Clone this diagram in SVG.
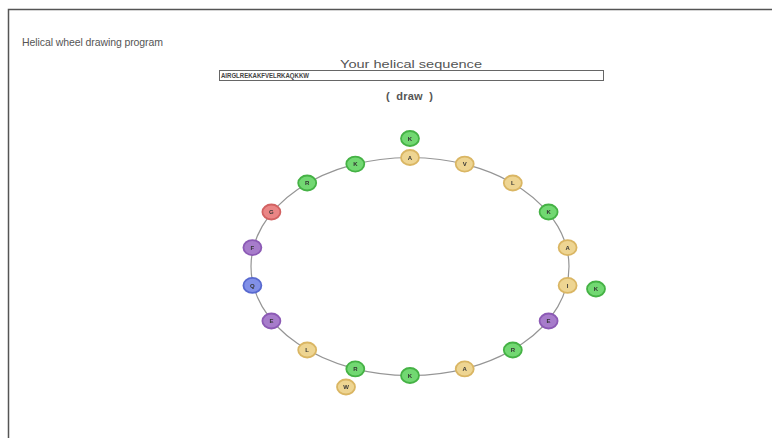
<svg xmlns="http://www.w3.org/2000/svg" width="772" height="438" viewBox="0 0 772 438">
  <style>
    .ui { font-family: "Liberation Sans", Arial, sans-serif; fill: #555; }
    .res ellipse { stroke-width: 1.8; }
    .res text { font-family: "Liberation Sans", Arial, sans-serif; font-size: 6px; font-weight: bold; fill: #333; text-anchor: middle; }
    .pos ellipse { fill: #72d872; stroke: #45b245; }
    .hyd ellipse { fill: #eed592; stroke: #dab664; }
    .aci ellipse { fill: #a77ccb; stroke: #8c5ab5; }
    .pol ellipse { fill: #8190e8; stroke: #5869cf; }
    .gly ellipse { fill: #ea8585; stroke: #d26262; }
  </style>
  <defs>
    <filter id="soft" x="-50%" y="-50%" width="200%" height="200%">
      <feGaussianBlur stdDeviation="0.7"/>
    </filter>
  </defs>
  <rect width="772" height="438" fill="#fff"/>
  <!-- page frame -->
  <path d="M8.5 440 V9.5 H780" fill="none" stroke="#555" stroke-width="1.5"/>

  <text class="ui" x="22" y="46" font-size="10.5" textLength="141">Helical wheel drawing program</text>
  <text class="ui" x="340" y="68" font-size="10.5" textLength="142" lengthAdjust="spacingAndGlyphs" fill="#666">Your helical sequence</text>
  <rect x="219.5" y="70.5" width="384" height="10" fill="#fff" stroke="#666" stroke-width="1"/>
  <text x="221" y="78.3" font-family="Liberation Sans, Arial, sans-serif" font-size="6.5" font-weight="bold" fill="#444" textLength="88" lengthAdjust="spacingAndGlyphs">AIRGLREKAKFVELRKAQKKW</text>
  <text class="ui" x="386" y="100" font-size="11" font-weight="bold" fill="#444" textLength="47" xml:space="preserve">(  draw  )</text>

  <!-- backbone -->
  <g id="connectors">
    <ellipse cx="410" cy="266.5" rx="159" ry="109" fill="none" stroke="#959595" stroke-width="1.2"/>
  </g>

  <g filter="url(#soft)">
    <g id="r0" class="res hyd"><ellipse cx="410" cy="157.5" rx="9" ry="7.5"/><text x="410" y="159.6">A</text></g>
    <g id="r11" class="res hyd"><ellipse cx="464.7" cy="164.1" rx="9" ry="7.5"/><text x="464.7" y="166.2">V</text></g>
    <g id="r4" class="res hyd"><ellipse cx="512.8" cy="183" rx="9" ry="7.5"/><text x="512.8" y="185.1">L</text></g>
    <g id="r15" class="res pos"><ellipse cx="548.6" cy="212" rx="9" ry="7.5"/><text x="548.6" y="214.1">K</text></g>
    <g id="r8" class="res hyd"><ellipse cx="567.6" cy="247.6" rx="9" ry="7.5"/><text x="567.6" y="249.7">A</text></g>
    <g id="r1" class="res hyd"><ellipse cx="567.6" cy="285.4" rx="9" ry="7.5"/><text x="567.6" y="287.5">I</text></g>
    <g id="r12" class="res aci"><ellipse cx="548.6" cy="321" rx="9" ry="7.5"/><text x="548.6" y="323.1">E</text></g>
    <g id="r5" class="res pos"><ellipse cx="512.8" cy="350" rx="9" ry="7.5"/><text x="512.8" y="352.1">R</text></g>
    <g id="r16" class="res hyd"><ellipse cx="464.7" cy="368.9" rx="9" ry="7.5"/><text x="464.7" y="371">A</text></g>
    <g id="r9" class="res pos"><ellipse cx="410" cy="375.5" rx="9" ry="7.5"/><text x="410" y="377.6">K</text></g>
    <g id="r2" class="res pos"><ellipse cx="355.3" cy="368.9" rx="9" ry="7.5"/><text x="355.3" y="371">R</text></g>
    <g id="r13" class="res hyd"><ellipse cx="307.2" cy="350" rx="9" ry="7.5"/><text x="307.2" y="352.1">L</text></g>
    <g id="r6" class="res aci"><ellipse cx="271.4" cy="321" rx="9" ry="7.5"/><text x="271.4" y="323.1">E</text></g>
    <g id="r17" class="res pol"><ellipse cx="252.4" cy="285.4" rx="9" ry="7.5"/><text x="252.4" y="287.5">Q</text></g>
    <g id="r10" class="res aci"><ellipse cx="252.4" cy="247.6" rx="9" ry="7.5"/><text x="252.4" y="249.7">F</text></g>
    <g id="r3" class="res gly"><ellipse cx="271.4" cy="212" rx="9" ry="7.5"/><text x="271.4" y="214.1">G</text></g>
    <g id="r14" class="res pos"><ellipse cx="307.2" cy="183" rx="9" ry="7.5"/><text x="307.2" y="185.1">R</text></g>
    <g id="r7" class="res pos"><ellipse cx="355.3" cy="164.1" rx="9" ry="7.5"/><text x="355.3" y="166.2">K</text></g>
    <!-- second turn, drawn outside the wheel -->
    <g id="r18" class="res pos"><ellipse cx="410" cy="138.5" rx="9" ry="7.5"/><text x="410" y="140.6">K</text></g>
    <g id="r19" class="res pos"><ellipse cx="596" cy="289" rx="9" ry="7.5"/><text x="596" y="291.1">K</text></g>
    <g id="r20" class="res hyd"><ellipse cx="346" cy="387" rx="9" ry="7.5"/><text x="346" y="389.1">W</text></g>
  </g>
</svg>
